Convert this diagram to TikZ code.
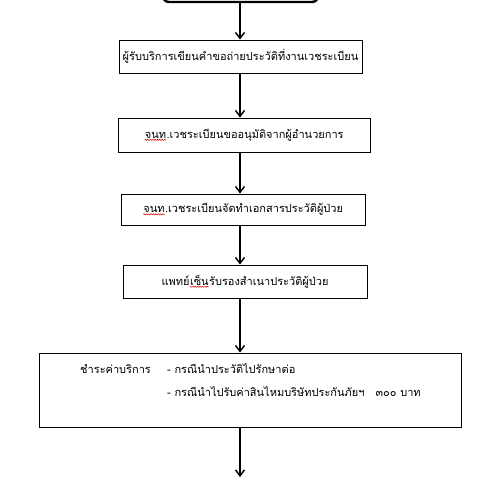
\documentclass[tikz,border=0pt]{standalone}
\usepackage{fontspec}
\setmainfont[Script=Thai]{Loma}
\usetikzlibrary{arrows.meta,decorations.pathmorphing}

% red wavy underline under a word
\newcommand\wavyword[1]{\tikz[baseline=(ww.base)]{%
  \node[inner sep=0pt,draw=none,fill=none,minimum width=0pt,minimum height=0pt] (ww) {#1};
  \draw[red!85!black,line width=0.5pt,decorate,decoration={snake,amplitude=0.6pt,segment length=2.4pt}]
    ([yshift=-1.6pt]ww.base west) -- ([yshift=-1.6pt]ww.base east);}}

\tikzset{
  txt/.style={font=\fontsize{11}{13}\selectfont},
  stepbox/.style={txt,draw=black,line width=1pt,fill=white,inner sep=0pt},
  flow/.style={line width=1.6pt,-{Straight Barb[length=6pt,width=9pt,line width=1.4pt]}},
}

\begin{document}
\begin{tikzpicture}[x=1pt,y=-1pt]
\useasboundingbox (0,0) rectangle (485,480);
\clip (0,0) rectangle (485,480);

% top terminator, mostly above the visible area
\node[draw=black,line width=2.4pt,rounded corners=6pt,minimum width=155pt,minimum height=40pt,inner sep=0pt] (start) at (240.5,-18) {};

\node[stepbox,minimum width=243pt,minimum height=33pt] (s1) at (240.5,56.5)
  {ผู้รับบริการเขียนคำขอถ่ายประวัติที่งานเวชระเบียน};
\node[stepbox,minimum width=252pt,minimum height=34pt] (s2) at (244,135)
  {\wavyword{จนท}.เวชระเบียนขออนุมัติจากผู้อำนวยการ};
\node[stepbox,minimum width=244pt,minimum height=31pt] (s3) at (243,209.5)
  {\wavyword{จนท}.เวชระเบียนจัดทำเอกสารประวัติผู้ป่วย};
\node[stepbox,minimum width=244pt,minimum height=33pt] (s4) at (245,281.5)
  {แพทย์\wavyword{เซ็น}รับรองสำเนาประวัติผู้ป่วย};
\node[stepbox,minimum width=422pt,minimum height=74pt] (s5) at (250,390) {};

\node[txt,anchor=base west,inner sep=0pt] (fee) at (80,373) {ชำระค่าบริการ};
\node[txt,anchor=base west,inner sep=0pt] (caseA) at (167,373) {- กรณีนำประวัติไปรักษาต่อ};
\node[txt,anchor=base west,inner sep=0pt] (caseB) at (167,396) {- กรณีนำไปรับค่าสินไหมบริษัทประกันภัยฯ\ \ \ ๓๐๐ บาท};

\coordinate (end) at (240,477);

\draw[flow] (start.south -| 240,0) -- (s1.north -| 240,0);
\draw[flow] (s1.south -| 240,0) -- (s2.north -| 240,0);
\draw[flow] (s2.south -| 240,0) -- (s3.north -| 240,0);
\draw[flow] (s3.south -| 240,0) -- (s4.north -| 240,0);
\draw[flow] (s4.south -| 240,0) -- (s5.north -| 240,0);
\draw[flow] (s5.south -| 240,0) -- (end);
\end{tikzpicture}
\end{document}
